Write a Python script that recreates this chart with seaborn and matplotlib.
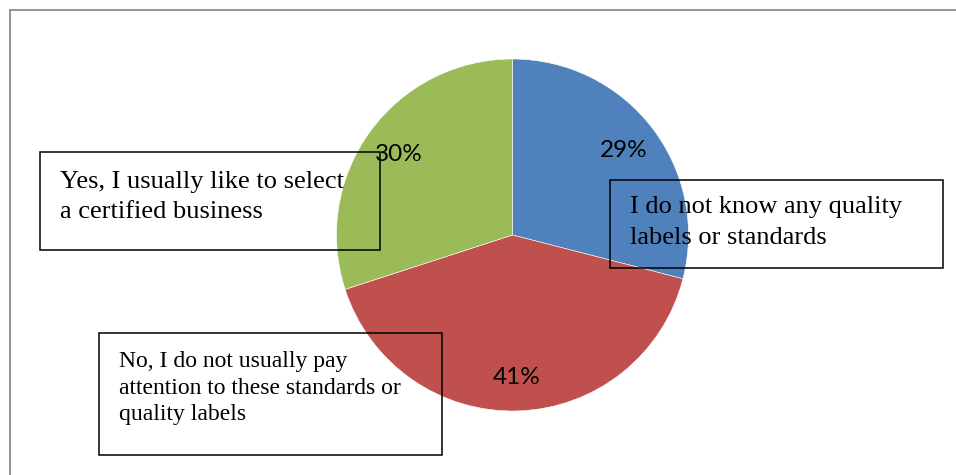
import matplotlib
matplotlib.use("Agg")
import matplotlib.pyplot as plt
from matplotlib.patches import Rectangle
from matplotlib.lines import Line2D
import seaborn as sns

# Survey answers, in clockwise order from 12 o'clock
answers = [
    "I do not know any quality\nlabels or standards",
    "No, I do not usually pay\nattention to these standards or\nquality labels",
    "Yes, I usually like to select\na certified business",
]
shares = [29, 41, 30]
slice_colors = ["#4F81BD", "#C0504D", "#9BBB59"]

sns.set_theme(style="white")
plt.rcParams["font.family"] = ["Lato", "DejaVu Sans"]

W, H = 956, 475
fig = plt.figure(figsize=(W / 100, H / 100), dpi=100)
fig.patch.set_facecolor("white")
ax = fig.add_axes([0, 0, 1, 1])

def fy(y_px):
    """Convert a top-down pixel row to the axes' bottom-up coordinate."""
    return H - y_px

wedges, _, pct_texts = ax.pie(
    shares,
    colors=slice_colors,
    startangle=90,
    counterclock=False,
    center=(512.5, fy(235)),
    radius=176,
    autopct=lambda p: f"{p:.0f}%",
    pctdistance=0.80,
    wedgeprops=dict(edgecolor="white", linewidth=0.4),
    textprops=dict(fontsize=17.5, color="black", va="center_baseline",
                   family=["Lato", "DejaVu Sans"]),
)

ax.set_xlim(0, W)
ax.set_ylim(0, H)
ax.set_aspect("equal")
ax.axis("off")

# Callout boxes: (left, top, right, bottom) in pixels, text origin, font size, line pitch
boxes = [
    dict(rect=(610, 180, 943, 268), text_x=630, first_base=213, size=19, pitch=31),
    dict(rect=(99, 333, 442, 455), text_x=119, first_base=367, size=17, pitch=26.7),
    dict(rect=(40, 152, 380, 250), text_x=60, first_base=188, size=19, pitch=30),
]

for label, b in zip(answers, boxes):
    l, t, r, btm = b["rect"]
    ax.add_patch(Rectangle((l, fy(btm)), r - l, btm - t, fill=False,
                           edgecolor="black", linewidth=1.1, zorder=5))
    for i, line in enumerate(label.split("\n")):
        ax.text(b["text_x"], fy(b["first_base"] + i * b["pitch"]), line,
                fontsize=b["size"], family=["Liberation Serif", "DejaVu Serif"],
                color="black", ha="left", va="baseline", zorder=6)

# Chart-area frame (top and left edges visible)
frame_color = "#8c8c8c"
fig.add_artist(Line2D([9.5 / W, 1], [fy(9.5) / H, fy(9.5) / H],
                      transform=fig.transFigure, color=frame_color, linewidth=1.3))
fig.add_artist(Line2D([9.5 / W, 9.5 / W], [0, fy(9.5) / H],
                      transform=fig.transFigure, color=frame_color, linewidth=1.3))

fig.savefig("out.png", dpi=100, facecolor="white")
